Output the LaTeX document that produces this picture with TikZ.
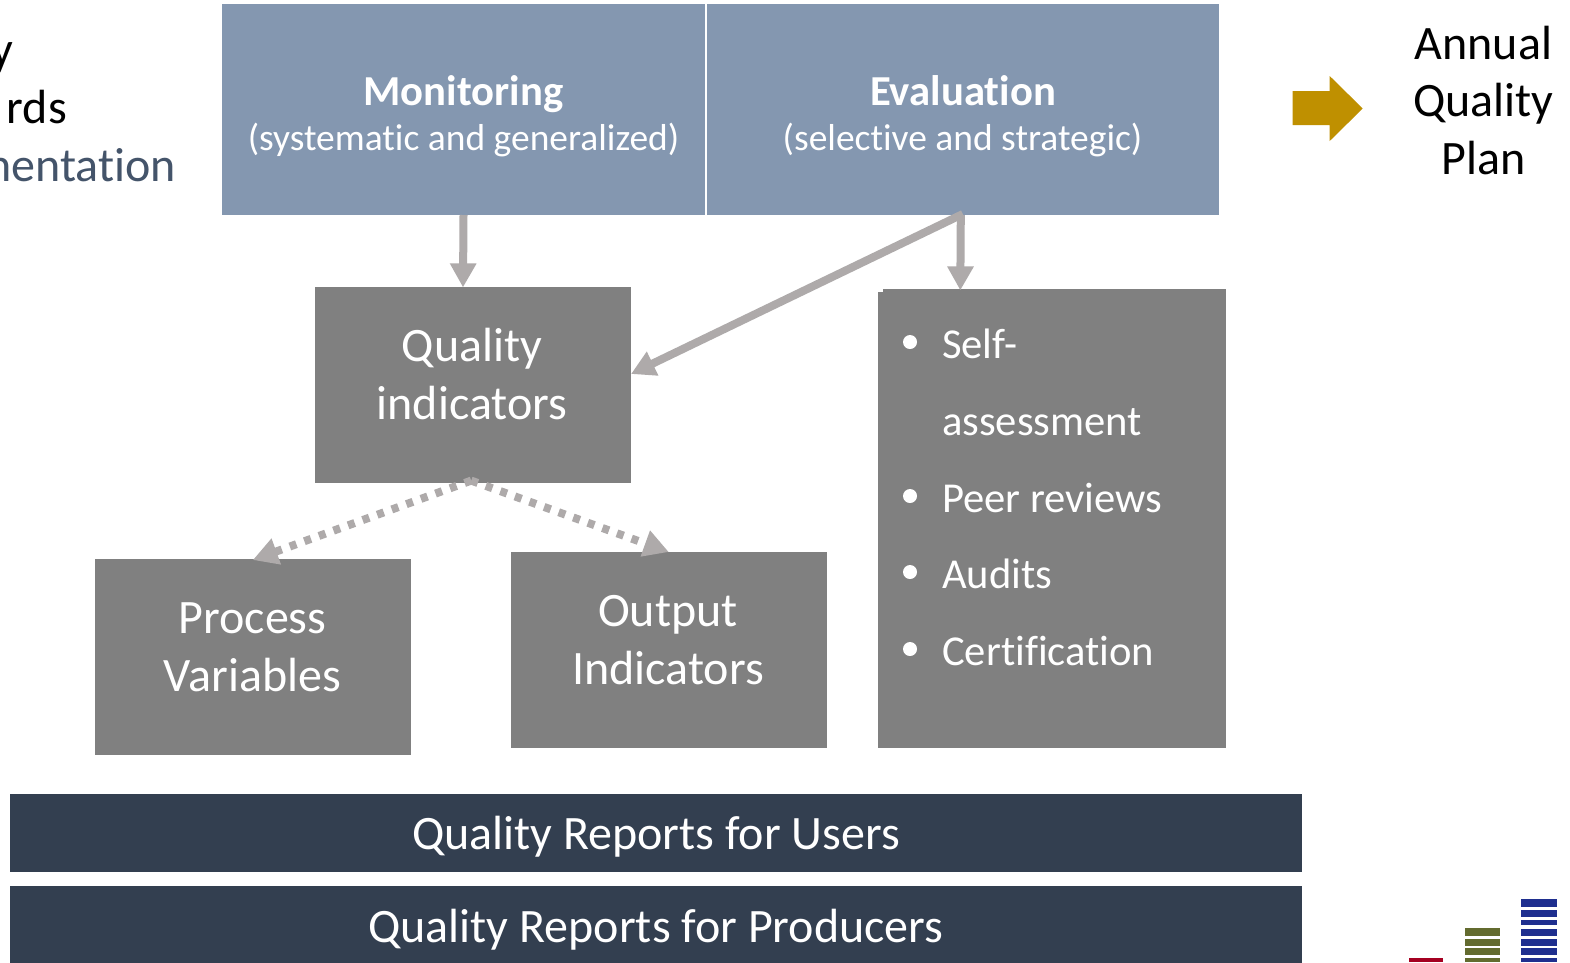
\documentclass[tikz,border=0pt]{standalone}
\usepackage{fontspec}
\setmainfont[RawFeature=-liga]{Carlito}
\usetikzlibrary{arrows.meta}
\definecolor{hdrblue}{HTML}{8497B0}
\definecolor{boxgrey}{HTML}{808080}
\definecolor{navy}{HTML}{333F50}
\definecolor{arrowgrey}{HTML}{AEAAAA}
\definecolor{gold}{HTML}{BF9000}
\definecolor{slate}{HTML}{44546A}
\definecolor{logored}{HTML}{A50021}
\definecolor{logoolive}{HTML}{636B2F}
\definecolor{logoblue}{HTML}{1F2F8F}
\newcommand{\fsz}[1]{\fontsize{#1}{#1}\selectfont}
\tikzset{
  panel/.style={rectangle,inner sep=0pt,outer sep=0pt,draw=none},
  hdr/.style={panel,fill=hdrblue},
  greybox/.style={panel,fill=boxgrey},
  navybar/.style={panel,fill=navy},
  boxlabel/.style={inner sep=0pt,anchor=base,text=white,font=\fsz{48}},
  bullettext/.style={inner sep=0pt,anchor=base west,text=white,font=\fsz{42.6}},
  bulletdot/.style={circle,fill=white,inner sep=0pt,minimum size=14pt},
  plain/.style={inner sep=0pt,text=black,font=\fsz{48}},
  solidarrow/.style={draw=arrowgrey,line width=8pt,-{Triangle[length=24pt,width=25pt]}},
  dotarrow/.style={draw=arrowgrey,line width=8pt,dash pattern=on 7pt off 8.5pt,-{Triangle[length=25pt,width=26pt]}},
}
\begin{document}
\begin{tikzpicture}[x=1pt,y=-1pt]
\clip (0,0) rectangle (1570,962);
\fill[white] (0,0) rectangle (1570,962);

% clipped left text
\node[plain,anchor=base east] (ltxta) at (13,65) {y};
\node[plain,anchor=base east] (ltxtb) at (67,123.5) {rds};
\node[plain,anchor=base east,text=slate] (ltxtc) at (176,181) {nentation};

% header
\node[hdr,minimum width=483pt,minimum height=211pt] (mon) at (463.5,109.5) {};
\node[hdr,minimum width=511.6pt,minimum height=211pt] (eva) at (962.8,109.5) {};
\node[inner sep=0pt,anchor=base,text=white,font=\fsz{42.7}\bfseries] (montitle) at (463.5,105) {Monitoring};
\node[inner sep=0pt,anchor=base,text=white,font=\fsz{37.5}] (monsub) at (463.5,150.5) {(systematic and generalized)};
\node[inner sep=0pt,anchor=base,text=white,font=\fsz{42.7}\bfseries] (evatitle) at (963,105) {Evaluation};
\node[inner sep=0pt,anchor=base,text=white,font=\fsz{37.5}] (evasub) at (962.5,150.5) {(selective and strategic)};

% grey boxes
\node[greybox,minimum width=315.6pt,minimum height=195.2pt] (qual) at (473.2,385) {};
\node[boxlabel] (quala) at (472,361.5) {Quality};
\node[boxlabel] (qualb) at (472,419.5) {indicators};

\node[greybox,minimum width=315.5pt,minimum height=195.5pt] (proc) at (252.8,656.75) {};
\node[boxlabel] (proca) at (252.5,633.5) {Process};
\node[boxlabel] (procb) at (252.5,691.5) {Variables};

\node[greybox,minimum width=316.4pt,minimum height=196pt] (outp) at (668.8,650) {};
\node[boxlabel] (outpa) at (668,626.5) {Output};
\node[boxlabel] (outpb) at (668,684.5) {Indicators};

\node[greybox,minimum width=347.6pt,minimum height=458.6pt] (rbox) at (1051.8,518.7) {};
\fill[white] (877,288) rectangle (883,292);
\node[bulletdot] (da) at (910,342) {};
\node[bulletdot] (db) at (910,496) {};
\node[bulletdot] (dc) at (910,572) {};
\node[bulletdot] (dd) at (910,649) {};
\node[bullettext] (ba) at (942,358) {Self-};
\node[bullettext] (bb) at (942,435) {assessment};
\node[bullettext] (bc) at (942,512) {Peer reviews};
\node[bullettext] (bd) at (942,588) {Audits};
\node[bullettext] (be) at (942,665) {Certification};

% connectors
\draw[solidarrow] (mon.south) -- ([xshift=-0.5pt]mon.south |- qual.north);
\draw[solidarrow] ([xshift=-2pt]eva.south) -- ([xshift=-91.5pt,yshift=-1pt]rbox.north);
\draw[solidarrow] ([yshift=1pt]eva.south) -- ([yshift=11pt]qual.east);
\draw[dotarrow] ([xshift=-2pt,yshift=2pt]qual.south) -- ([yshift=-1pt]proc.north);
\draw[dotarrow] ([xshift=-2pt,yshift=2pt]qual.south) -- (outp.north);

% bars
\node[navybar,minimum width=1291.7pt,minimum height=78pt] (usr) at (655.9,833) {};
\node[navybar,minimum width=1291.7pt,minimum height=100pt] (prd) at (655.9,936) {};
\node[boxlabel] (usrt) at (656,849.5) {Quality Reports for Users};
\node[boxlabel] (prdt) at (656,942.5) {Quality Reports for Producers};

% gold block arrow
\fill[gold] (1292.6,91) -- (1329.7,91) -- (1329.7,76) -- (1362.7,108.5) -- (1329.7,141) -- (1329.7,125) -- (1292.6,125) -- cycle;

% annual plan
\node[plain,anchor=base] (pa) at (1483.5,59) {Annual};
\node[plain,anchor=base] (pb) at (1483.5,116) {Quality};
\node[plain,anchor=base] (pc) at (1483.5,174) {Plan};

% logo
\fill[logored] (1409,958) rectangle (1443,962);
\foreach \a/\b in {928/936,939/946,948/955,958/962}
  \fill[logoolive] (1465,\a) rectangle (1500,\b);
\foreach \a/\b in {899/907,910/917,920/925,929/936,939/946,948/955,958/962}
  \fill[logoblue] (1521,\a) rectangle (1557,\b);
\end{tikzpicture}
\end{document}
